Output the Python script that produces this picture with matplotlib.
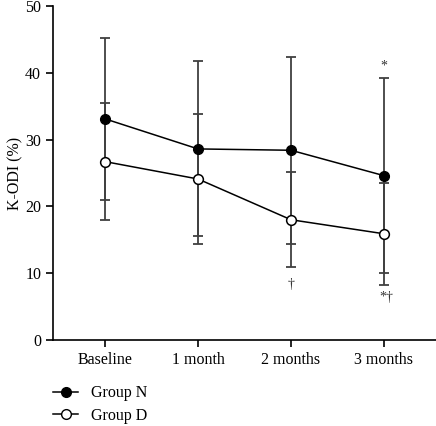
import matplotlib.pyplot as plt
from matplotlib.lines import Line2D

# Datos (K-ODI %)
timepoints = ["Baseline", "1 month", "2 months", "3 months"]
group_n_mean = [33.1, 28.6, 28.4, 24.6]
group_n_sd = [12.1, 13.1, 14.0, 14.6]
group_d_mean = [26.7, 24.1, 18.0, 15.9]
group_d_sd = [8.8, 9.7, 7.1, 7.6]

# Marcas de significancia (x, y, texto)
sig_labels = ["*", "\u2020", "*\u2020"]
sig_x = [3, 2, 3.03]
sig_y = [41.0, 8.3, 6.3]

plt.rcParams['font.family'] = ['Liberation Serif', 'DejaVu Serif']

fig = plt.figure(figsize=(4.36, 4.26), dpi=100)
ax = fig.add_axes([0.1216, 0.2019, 0.8784, 0.7841])

x = list(range(len(timepoints)))

ax.errorbar(x, group_n_mean, yerr=group_n_sd, fmt='none', ecolor='#404040',
            elinewidth=1.3, capsize=3.4, capthick=1.3, zorder=1)
ax.errorbar(x, group_d_mean, yerr=group_d_sd, fmt='none', ecolor='#404040',
            elinewidth=1.3, capsize=3.4, capthick=1.3, zorder=1)
ax.plot(x, group_n_mean, color='black', lw=1.1, marker='o', markersize=7,
        markerfacecolor='black', markeredgecolor='black', zorder=3)
ax.plot(x, group_d_mean, color='black', lw=1.1, marker='o', markersize=7,
        markerfacecolor='white', markeredgecolor='black', markeredgewidth=1.1, zorder=3)

for xs, ys, txt in zip(sig_x, sig_y, sig_labels):
    ax.text(xs, ys, txt, ha='center', va='center', fontsize=10, color='#333333')

ax.set_xlim(-0.56, 3.56)
ax.set_ylim(0, 50)
ax.set_yticks([0, 10, 20, 30, 40, 50])
ax.set_xticks(x)
ax.set_xticklabels(timepoints)
ax.set_ylabel("K-ODI (%)", fontsize=11.5, labelpad=1)
ax.tick_params(axis='both', labelsize=11.5, direction='out', length=5, width=1.2)
ax.tick_params(axis='x', pad=4)
for side in ['top', 'right']:
    ax.spines[side].set_visible(False)
for side in ['left', 'bottom']:
    ax.spines[side].set_linewidth(1.2)

handles = [
    Line2D([], [], color='black', lw=1.1, marker='o', markersize=7, markerfacecolor='black'),
    Line2D([], [], color='black', lw=1.1, marker='o', markersize=7, markerfacecolor='white'),
]
fig.legend(handles, ["Group N", "Group D"], loc='lower left', bbox_to_anchor=(0.088, -0.028),
           frameon=False, fontsize=11.5, handlelength=1.6, labelspacing=0.4, handletextpad=0.8)

fig.savefig("out.png", dpi=100)
